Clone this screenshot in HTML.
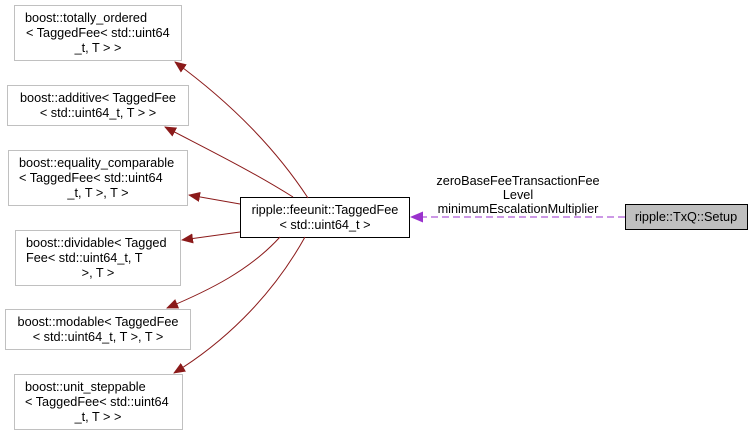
<!DOCTYPE html>
<html><head><meta charset="utf-8"><style>
html,body{margin:0;padding:0;background:#fff;}
svg{display:block;}
text{font-family:"Liberation Sans",Arial,sans-serif;font-size:12.7px;fill:#000;}
</style></head><body>
<svg width="755" height="435" viewBox="0 0 755 435" xmlns="http://www.w3.org/2000/svg">
<defs>
<marker id="ar" markerWidth="12" markerHeight="10" refX="11" refY="5" orient="auto" markerUnits="userSpaceOnUse" viewBox="0 0 12 10"><path d="M0,0 L12,5 L0,10 z" fill="#8b1a1a"/></marker>
<marker id="ap" markerWidth="13" markerHeight="11" refX="12" refY="5.5" orient="auto" markerUnits="userSpaceOnUse" viewBox="0 0 13 11"><path d="M0,0 L13,5.5 L0,11 z" fill="#9a32cd"/></marker>
</defs>
<g fill="#fff" stroke="#c0c0c0" stroke-width="1">
<rect x="14.5" y="5.5" width="167" height="55"/>
<rect x="7.5" y="85.5" width="181" height="40"/>
<rect x="8.5" y="150.5" width="179" height="55"/>
<rect x="15.5" y="230.5" width="165" height="55"/>
<rect x="5.5" y="309.5" width="185" height="40"/>
<rect x="14.5" y="374.5" width="168" height="55"/>
</g>
<rect x="240.5" y="197.5" width="169" height="40" fill="#fff" stroke="#000"/>
<rect x="625.5" y="204.5" width="122" height="25" fill="#bfbfbf" stroke="#000"/>
<g fill="none" stroke="#8b1a1a" stroke-width="1">
<path d="M308,198 C270,140 220,95 175,62" marker-end="url(#ar)"/>
<path d="M293,197 C250,170 205,148 165,127" marker-end="url(#ar)"/>
<path d="M240,204 L189,195" marker-end="url(#ar)"/>
<path d="M240,232 L182,240" marker-end="url(#ar)"/>
<path d="M280,237 C250,270 210,290 167,308" marker-end="url(#ar)"/>
<path d="M305,237 C270,300 220,345 174,373" marker-end="url(#ar)"/>
</g>
<path d="M625,217 L411,217" fill="none" stroke="#9a32cd" stroke-dasharray="7,4" marker-end="url(#ap)"/>
<text x="25" y="22">boost::totally_ordered</text>
<text x="26" y="37">&lt; TaggedFee&lt; std::uint64</text>
<text x="98" y="52" text-anchor="middle">_t, T &gt; &gt;</text>
<text x="98" y="102" text-anchor="middle">boost::additive&lt; TaggedFee</text>
<text x="98" y="117" text-anchor="middle">&lt; std::uint64_t, T &gt; &gt;</text>
<text x="19" y="167">boost::equality_comparable</text>
<text x="19" y="182">&lt; TaggedFee&lt; std::uint64</text>
<text x="98" y="197" text-anchor="middle">_t, T &gt;, T &gt;</text>
<text x="26" y="247">boost::dividable&lt; Tagged</text>
<text x="26" y="262">Fee&lt; std::uint64_t, T</text>
<text x="98" y="277" text-anchor="middle">&gt;, T &gt;</text>
<text x="98" y="326" text-anchor="middle">boost::modable&lt; TaggedFee</text>
<text x="98" y="341" text-anchor="middle">&lt; std::uint64_t, T &gt;, T &gt;</text>
<text x="25" y="391">boost::unit_steppable</text>
<text x="25" y="406">&lt; TaggedFee&lt; std::uint64</text>
<text x="98" y="421" text-anchor="middle">_t, T &gt; &gt;</text>
<g text-anchor="middle">
<text x="325" y="214">ripple::feeunit::TaggedFee</text>
<text x="325" y="229">&lt; std::uint64_t &gt;</text>
<text x="686" y="221">ripple::TxQ::Setup</text>
<text x="518" y="185">zeroBaseFeeTransactionFee</text>
<text x="518" y="199">Level</text>
<text x="518" y="213">minimumEscalationMultiplier</text>
</g>
</svg>
</body></html>
